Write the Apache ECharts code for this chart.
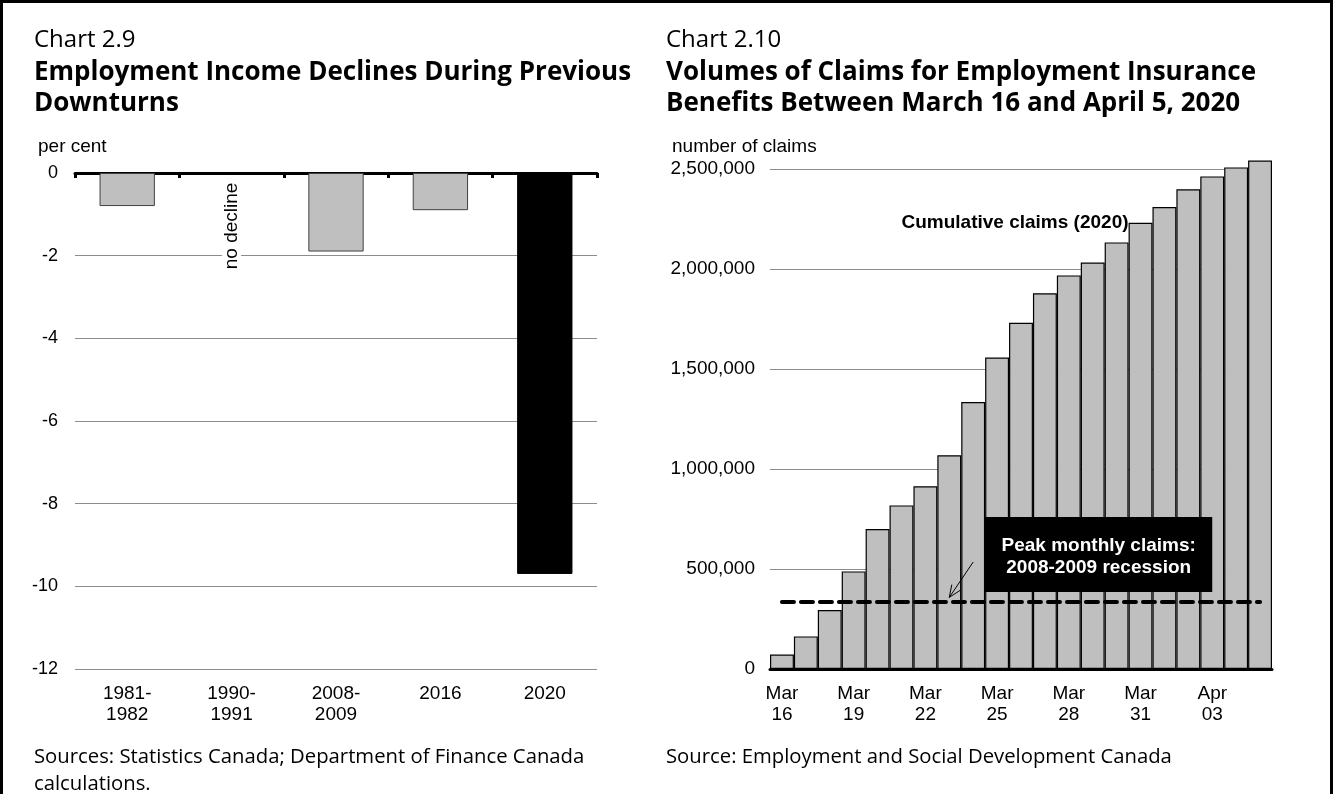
<!DOCTYPE html>
<html><head><meta charset="utf-8">
<script src="https://cdn.jsdelivr.net/npm/echarts@6/dist/echarts.min.js"></script>
<style>html,body{margin:0;padding:0;background:#fff}#c{width:1334px;height:794px}</style>
</head><body><div id="c"></div>
<script>
// ---- Chart 2.9 data ----
const periods = ['1981-\n1982', '1990-\n1991', '2008-\n2009', '2016', '2020'];
const incomeDecline = [-0.8, 0, -1.9, -0.9, -9.7];
const incomeAxis = { min: -12, max: 0, interval: 2 };
// ---- Chart 2.10 data ----
const claimDates = ['Mar\n16','Mar\n17','Mar\n18','Mar\n19','Mar\n20','Mar\n21','Mar\n22','Mar\n23','Mar\n24','Mar\n25','Mar\n26','Mar\n27','Mar\n28','Mar\n29','Mar\n30','Mar\n31','Apr\n01','Apr\n02','Apr\n03','Apr\n04','Apr\n05'];
const cumulativeClaims = [72000,163000,295000,488000,700000,818000,914000,1069000,1335000,1557000,1731000,1879000,1968000,2032000,2133000,2231000,2310000,2399000,2463000,2508000,2542000];
const peakMonthlyClaims0809 = 335000;
const claimsAxis = { min: 0, max: 2500000, interval: 500000 };

const AX = 'Liberation Sans, Arial, sans-serif';
const TF = 'Open Sans, Noto Sans, sans-serif';
const chart = echarts.init(document.getElementById('c'));

const ts = (size, bold, lh) => ({ fontFamily: TF, fontSize: size, fontWeight: bold ? 'bold' : 'normal', color: '#000', lineHeight: lh });
const as = (size) => ({ fontFamily: AX, fontSize: size, fontWeight: 'normal', color: '#000', lineHeight: size });

chart.setOption({
  animation: false,
  backgroundColor: '#fff',
  title: [
    { text: 'Chart 2.9', left: 34, top: 27, padding: 0, textStyle: ts(24, false, 26) },
    { text: 'Employment Income Declines During Previous\nDownturns', left: 34, top: 57, padding: 0, textStyle: ts(26, true, 31) },
    { text: 'per cent', left: 38, top: 137, padding: 0, textStyle: as(19) },
    { text: 'Sources: Statistics Canada; Department of Finance Canada\ncalculations.', left: 34, top: 744, padding: 0, textStyle: ts(20.3, false, 27) },
    { text: 'Chart 2.10', left: 666, top: 27, padding: 0, textStyle: ts(24, false, 26) },
    { text: 'Volumes of Claims for Employment Insurance\nBenefits Between March 16 and April 5, 2020', left: 666, top: 57, padding: 0, textStyle: ts(26, true, 31) },
    { text: 'number of claims', left: 672, top: 137, padding: 0, textStyle: as(19) },
    { text: 'Source: Employment and Social Development Canada', left: 666, top: 744, padding: 0, textStyle: ts(20.3, false, 27) }
  ],
  grid: [
    { left: 75, right: 737, top: 173, bottom: 125 },
    { left: 770, right: 62, top: 169, bottom: 125 }
  ],
  xAxis: [
    { gridIndex: 0, type: 'category', data: periods, position: 'bottom',
      axisLine: { show: false }, axisTick: { show: false },
      axisLabel: { color: '#000', fontFamily: AX, fontSize: 19, lineHeight: 21, margin: 14 } },
    { gridIndex: 0, type: 'category', data: periods, position: 'top',
      axisLine: { show: true, lineStyle: { color: '#000', width: 3 } },
      axisTick: { show: true, inside: true, length: 5, lineStyle: { color: '#000', width: 3 } },
      axisLabel: { show: false } },
    { gridIndex: 1, type: 'category', data: claimDates,
      axisLine: { show: true, lineStyle: { color: '#000', width: 3 } },
      axisTick: { show: false },
      axisLabel: { color: '#000', fontFamily: AX, fontSize: 19, lineHeight: 21, margin: 14, interval: 2 } }
  ],
  yAxis: [
    { gridIndex: 0, type: 'value', min: incomeAxis.min, max: incomeAxis.max, interval: incomeAxis.interval,
      axisLine: { show: false }, axisTick: { show: false },
      axisLabel: { color: '#000', fontFamily: AX, fontSize: 18, margin: 17 },
      splitLine: { lineStyle: { color: '#8c8c8c', width: 1 } } },
    { gridIndex: 1, type: 'value', min: claimsAxis.min, max: claimsAxis.max, interval: claimsAxis.interval,
      axisLine: { show: false }, axisTick: { show: false },
      axisLabel: { color: '#000', fontFamily: AX, fontSize: 19, margin: 15,
        formatter: v => v.toLocaleString('en-US') },
      splitLine: { lineStyle: { color: '#8c8c8c', width: 1 } } }
  ],
  series: [
    { type: 'bar', xAxisIndex: 0, yAxisIndex: 0, barWidth: '53%',
      data: incomeDecline.map((v, i) => ({ value: v,
        itemStyle: i === incomeDecline.length - 1
          ? { color: '#000', borderColor: '#000', borderWidth: 1 }
          : { color: '#bfbfbf', borderColor: '#404040', borderWidth: v === 0 ? 0 : 1 } })) },
    { type: 'bar', xAxisIndex: 2, yAxisIndex: 1, barCategoryGap: 0, clip: false,
      itemStyle: { color: '#bfbfbf', borderColor: '#000', borderWidth: 1.2 },
      data: cumulativeClaims,
      markLine: { silent: true, symbol: 'none', label: { show: false },
        lineStyle: { color: '#000', width: 4, type: [12, 7], cap: 'round' },
        data: [[{ coord: [claimDates[0], peakMonthlyClaims0809] }, { coord: [claimDates[claimDates.length - 1], peakMonthlyClaims0809] }]] } }
  ]
});

// annotations placed through the axes
const p1 = (c, v) => chart.convertToPixel({ xAxisIndex: 0, yAxisIndex: 0 }, [c, v]);
const p2 = (c, v) => chart.convertToPixel({ xAxisIndex: 2, yAxisIndex: 1 }, [c, v]);
const catW = p2(1, 0)[0] - p2(0, 0)[0];
const nd = p1(1, -1.28);
const cum = p2(10, 2235000);
const boxTL = p2(9, 760000), boxBR = p2(18, 385000);
const aS = p2(8.35, 535000), aE = p2(7, 358000);
const ang = Math.atan2(aE[1] - aS[1], aE[0] - aS[0]);
const ah = 13, spread = 0.4;
chart.setOption({
  graphic: [
    { type: 'rect', shape: { x: 1.5, y: 1.5, width: 1330, height: 820 }, style: { fill: 'none', stroke: '#000', lineWidth: 3 }, z: 100 },
    { type: 'text', x: nd[0], y: nd[1], rotation: Math.PI / 2, z: 50,
      style: { text: 'no decline', fill: '#000', font: '19px Liberation Sans, Arial', align: 'center', verticalAlign: 'middle',
        backgroundColor: '#fff', padding: [0, 4] } },
    { type: 'text', x: cum[0] - 6, y: cum[1] + 1, z: 50,
      style: { text: 'Cumulative claims (2020)', fill: '#000', font: 'bold 19px Liberation Sans, Arial', align: 'center', verticalAlign: 'middle' } },
    { type: 'rect', z: 50, shape: { x: boxTL[0] - catW / 2, y: boxTL[1], width: boxBR[0] - (boxTL[0] - catW / 2), height: boxBR[1] - boxTL[1] }, style: { fill: '#000' } },
    { type: 'text', z: 51, x: (boxTL[0] - catW / 2 + boxBR[0]) / 2, y: (boxTL[1] + boxBR[1]) / 2 + 2,
      style: { text: 'Peak monthly claims:\n2008-2009 recession', fill: '#fff', font: 'bold 19px Liberation Sans, Arial', align: 'center', verticalAlign: 'middle', lineHeight: 22 } },
    { type: 'polyline', z: 52, shape: { points: [aS, aE] }, style: { stroke: '#000', lineWidth: 1 } },
    { type: 'polyline', z: 52, shape: { points: [
        [aE[0] - ah * Math.cos(ang - spread), aE[1] - ah * Math.sin(ang - spread)], aE,
        [aE[0] - ah * Math.cos(ang + spread), aE[1] - ah * Math.sin(ang + spread)]] },
      style: { stroke: '#000', lineWidth: 1, fill: 'none' } }
  ]
});
</script></body></html>
